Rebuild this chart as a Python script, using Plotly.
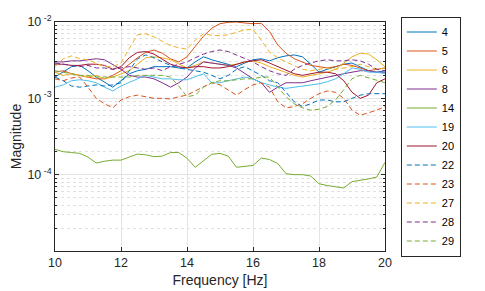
import plotly.graph_objects as go

# Frequencies [Hz]
freq = [10.0, 10.25, 10.5, 10.75, 11.0, 11.25, 11.5, 11.75, 12.0, 12.25, 12.5, 12.75,
        13.0, 13.25, 13.5, 13.75, 14.0, 14.25, 14.5, 14.75, 15.0, 15.25, 15.5, 15.75,
        16.0, 16.25, 16.5, 16.75, 17.0, 17.25, 17.5, 17.75, 18.0, 18.25, 18.5, 18.75,
        19.0, 19.25, 19.5, 19.75, 20.0]

# Magnitudes in units of 1e-3
s4 = [1.9, 2.2, 2.6, 2.7, 2.3, 1.9, 1.65, 1.4, 1.7, 2.1, 2.3, 2.4, 2.6, 2.6, 2.6, 2.5, 2.5,
      3.0, 3.5, 3.2, 3.0, 2.8, 2.6, 2.9, 3.2, 3.3, 3.1, 3.4, 3.6, 3.7, 3.5, 2.8, 2.2, 2.4,
      2.6, 2.8, 2.9, 2.6, 2.3, 2.2, 2.3]
s5 = [2.2, 2.3, 2.1, 2.0, 1.9, 1.8, 1.8, 2.0, 2.3, 2.8, 3.4, 4.0, 4.3, 3.9, 3.3, 3.0, 3.5,
      4.8, 6.5, 8.3, 9.5, 9.9, 10.0, 9.7, 9.5, 9.6, 7.5, 5.0, 3.9, 3.3, 3.0, 2.7, 2.6, 2.5,
      2.6, 2.8, 2.7, 2.5, 2.3, 2.4, 2.5]
s6 = [2.2, 2.0, 2.1, 2.0, 1.9, 2.0, 1.8, 1.9, 2.1, 2.3, 2.8, 3.4, 3.5, 3.4, 3.2, 2.8, 2.5,
      2.7, 3.0, 2.9, 2.8, 2.7, 2.8, 3.0, 3.1, 2.9, 2.6, 2.4, 2.2, 2.0, 1.9, 2.0, 2.1, 2.2,
      2.4, 2.9, 3.5, 3.9, 3.8, 3.2, 2.6]
s8 = [3.0, 3.0, 3.1, 3.1, 3.2, 3.3, 3.2, 2.8, 2.4, 2.0, 1.9, 1.9, 1.8, 1.6, 1.4, 1.6, 1.9,
      2.5, 3.0, 2.9, 2.8, 2.7, 2.5, 2.1, 1.8, 1.6, 1.2, 1.4, 1.6, 1.6, 1.6, 1.7, 1.8, 1.9,
      2.0, 2.1, 2.2, 2.3, 2.3, 2.2, 2.2]
s14 = [0.215, 0.200, 0.195, 0.190, 0.170, 0.142, 0.150, 0.155, 0.155, 0.170, 0.186, 0.182,
       0.172, 0.175, 0.195, 0.195, 0.164, 0.125, 0.150, 0.185, 0.190, 0.175, 0.125, 0.128,
       0.132, 0.165, 0.158, 0.140, 0.103, 0.100, 0.100, 0.096, 0.076, 0.072, 0.069, 0.067,
       0.081, 0.084, 0.088, 0.093, 0.145]
s19 = [1.4, 1.5, 1.7, 1.75, 1.7, 1.6, 1.4, 1.25, 1.45, 1.6, 1.8, 2.0, 1.9, 1.8, 1.8, 1.75,
       1.75, 1.9, 2.1, 1.6, 1.6, 1.7, 1.8, 1.9, 1.8, 1.6, 1.5, 1.4, 1.35, 1.4, 1.45, 1.5,
       1.55, 1.65, 1.8, 2.1, 2.5, 2.4, 2.2, 2.2, 2.1]
s20 = [2.8, 2.8, 2.7, 2.7, 2.8, 2.8, 2.7, 2.4, 2.6, 3.4, 4.0, 4.1, 3.8, 3.3, 2.8, 2.6, 2.5,
       2.6, 2.6, 2.5, 2.5, 2.6, 2.8, 3.0, 3.1, 3.2, 2.9, 2.6, 2.3, 2.1, 2.0, 2.1, 2.2, 2.2,
       2.1, 1.7, 1.2, 1.0, 1.1, 1.6, 1.8]
s22 = [1.9, 1.7, 1.45, 1.4, 1.45, 1.5, 1.45, 1.5, 1.6, 2.3, 3.3, 3.7, 3.4, 3.0, 2.7, 2.5,
       2.4, 2.3, 2.2, 2.0, 1.8, 2.0, 2.4, 2.6, 2.3, 2.0, 1.7, 1.6, 1.2, 0.9, 0.78, 0.85,
       0.95, 0.95, 0.9, 0.9, 1.0, 1.1, 1.15, 1.15, 1.15]
s23 = [1.8, 1.7, 1.85, 1.9, 1.4, 1.0, 0.85, 0.75, 0.95, 1.05, 1.1, 1.05, 1.0, 1.0, 0.98,
       1.05, 1.1, 1.25, 1.4, 1.6, 1.5, 1.3, 1.1, 1.3, 1.5, 1.6, 1.4, 0.9, 0.75, 0.78, 0.85,
       1.0, 1.15, 1.25, 1.2, 1.0, 0.7, 0.6, 0.65, 0.7, 0.78]
s27 = [2.6, 3.3, 3.6, 3.3, 3.2, 2.9, 2.6, 2.6, 2.9, 4.5, 6.8, 7.0, 6.4, 5.6, 4.9, 4.6, 4.4,
       5.8, 7.0, 6.7, 6.6, 6.8, 7.3, 7.9, 8.0, 5.8, 4.0, 3.4, 3.0, 2.7, 2.4, 2.3, 2.4, 2.5,
       2.4, 2.5, 2.6, 2.8, 2.6, 2.4, 2.5]
s28 = [2.9, 2.8, 2.7, 2.6, 2.7, 2.5, 2.5, 2.4, 2.5, 2.6, 2.5, 2.4, 2.5, 2.3, 2.6, 2.8, 3.0,
       3.4, 3.8, 4.1, 4.3, 4.1, 3.7, 3.4, 3.0, 2.6, 2.3, 2.1, 2.0, 2.4, 2.7, 2.9, 3.1, 3.2,
       3.1, 3.1, 3.2, 3.1, 2.8, 2.4, 2.3]
s29 = [2.3, 2.2, 2.1, 2.0, 2.0, 1.9, 1.9, 1.9, 1.9, 1.9, 2.0, 2.0, 2.0, 2.0, 1.9, 1.45,
       1.05, 1.1, 1.4, 1.6, 1.7, 1.7, 1.75, 1.8, 1.8, 1.9, 1.9, 1.4, 1.05, 0.85, 0.75, 0.7,
       0.72, 0.78, 0.95, 1.3, 1.8, 2.0, 1.85, 1.7, 1.6]

UNIT = 1e-3
names = ["4", "5", "6", "8", "14", "19", "20", "22", "23", "27", "28", "29"]
series = [s4, s5, s6, s8, s14, s19, s20, s22, s23, s27, s28, s29]
colors = ["#0072BD", "#D95319", "#EDB120", "#7E2F8E", "#77AC30", "#4DBEEE", "#A2142F",
          "#0072BD", "#D95319", "#EDB120", "#7E2F8E", "#77AC30"]
dashes = ["solid"] * 7 + ["5px,3px"] * 5

fig = go.Figure()
for n, s, c, d in zip(names, series, colors, dashes):
    fig.add_trace(go.Scatter(x=freq, y=[v * UNIT for v in s], mode="lines", name=n,
                             line=dict(color=c, width=1, dash=d)))

axis_col = "#262626"
font = "Liberation Sans, Arial, sans-serif"
# the page body adds an 8px offset, so the figure is sized to fit the window
fig.update_layout(
    width=477, height=283,
    margin=dict(l=47, r=100, t=14, b=40, autoexpand=False),
    paper_bgcolor="white", plot_bgcolor="white",
    font=dict(family=font, size=12, color=axis_col),
    showlegend=True,
    legend=dict(x=1.048, y=0.5, xanchor="left", yanchor="middle",
                bordercolor="#262626", borderwidth=1, bgcolor="white",
                font=dict(size=11, color="#000000"), itemwidth=30,
                tracegroupgap=0, maxheight=282),
)
fig.update_xaxes(
    range=[10, 20], tickvals=[10, 12, 14, 16, 18, 20],
    showgrid=True, gridcolor="#e3e3e3", gridwidth=1,
    showline=True, linecolor=axis_col, linewidth=1, mirror="ticks",
    ticks="inside", ticklen=4, tickcolor=axis_col,
    zeroline=False, automargin=False,
    tickfont=dict(size=12.5),
    title=dict(text="Frequency [Hz]", font=dict(size=14), standoff=6),
)
fig.update_yaxes(
    type="log", range=[-5, -2],
    tickvals=[1e-4, 1e-3, 1e-2],
    ticktext=["10<sup> -4</sup>", "10<sup> -3</sup>", "10<sup> -2</sup>"],
    showgrid=True, gridcolor="#e3e3e3", gridwidth=1,
    showline=True, linecolor=axis_col, linewidth=1, mirror="ticks",
    ticks="inside", ticklen=4, tickcolor=axis_col,
    tickfont=dict(size=12.5),
    minor=dict(tickvals=[m * 10.0 ** e for e in (-5, -4, -3) for m in range(2, 10)],
               showgrid=True, gridcolor="#e0e0e0", griddash="dot",
               ticks="inside", ticklen=2, tickcolor=axis_col),
    zeroline=False, automargin=False,
    title=dict(text="Magnitude", font=dict(size=14), standoff=4),
)
fig.write_html("out.html")
